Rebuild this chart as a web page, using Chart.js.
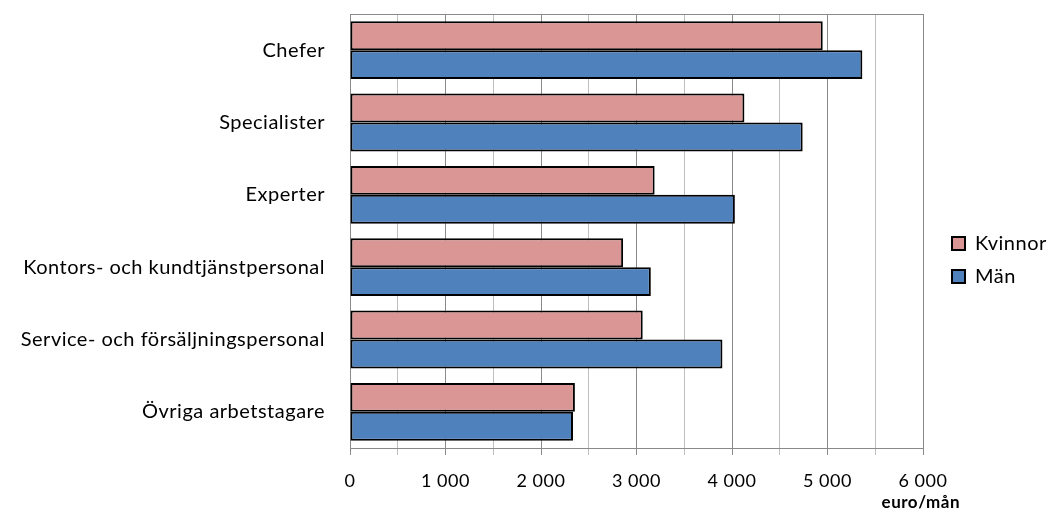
<!DOCTYPE html>
<html><head><meta charset="utf-8">
<script src="https://cdn.jsdelivr.net/npm/chart.js@4"></script>
<style>html,body{margin:0;padding:0;background:#fff}#wrap{width:1048px;height:514px}</style>
</head><body><div id="wrap"><canvas id="c" width="1048" height="514"></canvas></div>
<script>
const categories = ["Chefer", "Specialister", "Experter", "Kontors- och kundtjänstpersonal", "Service- och försäljningspersonal", "Övriga arbetstagare"];
const kvinnor = [4950, 4130, 3190, 2860, 3065, 2355];
const man = [5365, 4740, 4030, 3150, 3900, 2335];
const seriesNames = ["Kvinnor", "Män"];
const xMin = 0, xMax = 6000, xStep = 500, xLabelStep = 1000;
const axisTitle = "euro/mån";

const FONT = "Lato, 'Liberation Sans', sans-serif";
const LS = '0.5px';
function fmt(v){ return String(v).replace(/\B(?=(\d{3})+(?!\d))/g, " "); }

const PLOT_RIGHT = 923;
const LEGEND_BOX_X = 952;
const LEGEND_DY = -4;

const extras = {
  id: 'extras',
  afterInit(chart){ chart.ctx.letterSpacing = LS; },
  beforeUpdate(chart){ chart.ctx.letterSpacing = LS; },
  beforeDraw(chart){ chart.ctx.letterSpacing = LS; },
  afterLayout(chart){
    const L = chart.legend;
    if (!L) return;
    const pad = L.options.labels.padding;
    const dx = LEGEND_BOX_X - (L.left + pad);
    L.left += dx; L.right += dx;
    L.top += LEGEND_DY; L.bottom += LEGEND_DY;
  },
  beforeDatasetsDraw(chart){
    const {ctx, chartArea:a} = chart;
    ctx.save();
    ctx.strokeStyle = '#8a8a8a'; ctx.lineWidth = 1;
    ctx.beginPath(); ctx.moveTo(a.left, a.top + 0.5); ctx.lineTo(a.right, a.top + 0.5); ctx.stroke();
    ctx.restore();
  },
  afterDraw(chart){
    const {ctx, chartArea:a} = chart;
    ctx.save();
    ctx.letterSpacing = LS;
    ctx.font = "bold 17px " + FONT;
    ctx.fillStyle = '#000';
    ctx.textAlign = 'right'; ctx.textBaseline = 'middle';
    ctx.fillText(axisTitle, a.right + 37, 503);
    ctx.restore();
  }
};

new Chart(document.getElementById('c'), {
  type: 'bar',
  data: {
    labels: categories,
    datasets: [
      {label: seriesNames[0], data: kvinnor, backgroundColor: '#D99694', borderColor: '#000', borderWidth: 2, borderSkipped: false, categoryPercentage: 0.8, barPercentage: 1.0},
      {label: seriesNames[1], data: man, backgroundColor: '#4F81BD', borderColor: '#000', borderWidth: 2, borderSkipped: false, categoryPercentage: 0.8, barPercentage: 1.0}
    ]
  },
  options: {
    indexAxis: 'y',
    responsive: false,
    animation: false,
    devicePixelRatio: 1,
    layout: {padding: {top: 14, left: 0, right: 0, bottom: 0}},
    scales: {
      x: {
        min: xMin, max: xMax,
        ticks: {stepSize: xStep, autoSkip: false, font: {family: FONT, size: 18}, color: '#000', padding: 15, maxRotation: 0,
          callback: v => (v % xLabelStep === 0 ? fmt(v) : '')},
        grid: {color: c => (c.tick && c.tick.value % xLabelStep === 0 ? '#8a8a8a' : '#bfbfbf'), tickLength: 7, lineWidth: 1},
        border: {color: '#8a8a8a', width: 1},
        afterFit: s => { s.height = 66; }
      },
      y: {
        ticks: {font: {family: FONT, size: 20}, color: '#000', padding: 17},
        grid: {display: false},
        border: {color: '#8a8a8a', width: 1},
        afterFit: s => { s.width = 350; s.paddingTop = 0; s.paddingBottom = 0; }
      },
      gap: {
        type: 'linear', position: 'right', display: true,
        ticks: {display: false}, grid: {display: false}, border: {display: false},
        afterFit: s => {
          const lw = s.chart.legend ? s.chart.legend.width : 0;
          s.width = Math.max(0, s.chart.width - PLOT_RIGHT - lw);
          s.paddingTop = 0; s.paddingBottom = 0;
        }
      }
    },
    plugins: {
      legend: {
        position: 'right',
        labels: {font: {family: FONT, size: 20}, color: '#000', boxWidth: 13, boxHeight: 13, padding: 13,
          generateLabels: chart => chart.data.datasets.map((d, i) => ({text: d.label, fillStyle: d.backgroundColor, strokeStyle: '#000', lineWidth: 2, datasetIndex: i, hidden: false}))}
      },
      tooltip: {enabled: false}
    }
  },
  plugins: [extras]
});
</script></body></html>
